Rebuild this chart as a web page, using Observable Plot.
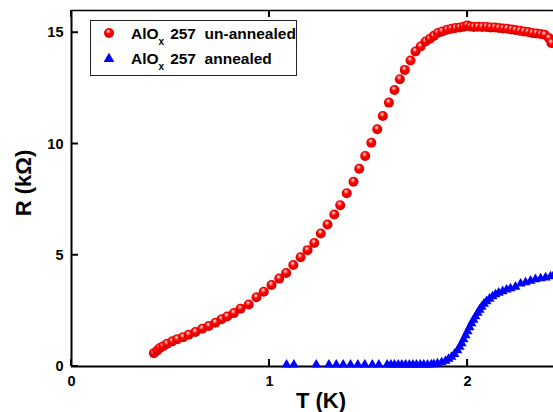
<!DOCTYPE html>
<html><head><meta charset="utf-8">
<script src="https://cdn.jsdelivr.net/npm/d3@7"></script>
<script src="https://cdn.jsdelivr.net/npm/@observablehq/plot@0.6"></script>
<style>body{margin:0;background:#fff}#chart{width:553px;height:412px}</style>
</head><body><div id="chart"></div>
<script>
// Un-annealed sample (red spheres)
const unannealedT = [0.416,0.433,0.446,0.463,0.483,0.509,0.534,0.564,0.592,0.626,0.660,0.693,0.727,0.758,0.786,0.820,0.854,0.895,0.934,0.971,1.010,1.049,1.084,1.120,1.157,1.192,1.226,1.259,1.293,1.327,1.357,1.390,1.424,1.453,1.483,1.514,1.544,1.572,1.603,1.631,1.658,1.683,1.712,1.737,1.763,1.788,1.810,1.830,1.850,1.872,1.897,1.918,1.939,1.961,1.981,1.998,2.015,2.032,2.052,2.074,2.096,2.116,2.138,2.158,2.180,2.200,2.222,2.242,2.264,2.284,2.306,2.327,2.348,2.369,2.389,2.411,2.423];
const unannealedR = [0.60,0.72,0.83,0.91,1.02,1.13,1.23,1.32,1.43,1.55,1.70,1.82,1.97,2.12,2.25,2.40,2.60,2.79,3.11,3.36,3.66,3.95,4.20,4.56,4.91,5.23,5.55,5.98,6.38,6.83,7.25,7.79,8.30,8.89,9.46,10.06,10.66,11.26,11.86,12.43,12.91,13.33,13.75,14.16,14.38,14.61,14.73,14.86,14.99,15.06,15.14,15.18,15.21,15.24,15.27,15.33,15.28,15.26,15.27,15.26,15.26,15.24,15.24,15.21,15.19,15.18,15.15,15.12,15.09,15.06,15.03,14.99,14.97,14.94,14.91,14.76,14.54];
// Annealed sample (blue triangles)
const annealedT = [1.086,1.123,1.236,1.300,1.337,1.372,1.409,1.446,1.481,1.519,1.552,1.594,1.613,1.631,1.650,1.668,1.687,1.706,1.724,1.742,1.761,1.779,1.798,1.817,1.830,1.848,1.869,1.889,1.904,1.919,1.934,1.949,1.960,1.970,1.980,1.990,2.000,2.010,2.020,2.030,2.040,2.051,2.061,2.071,2.083,2.096,2.111,2.126,2.141,2.157,2.177,2.197,2.217,2.242,2.268,2.293,2.318,2.343,2.369,2.394,2.419,2.434];
const annealedR = [0.08,0.08,0.08,0.08,0.08,0.08,0.08,0.08,0.08,0.08,0.08,0.08,0.08,0.08,0.08,0.08,0.08,0.08,0.08,0.08,0.08,0.08,0.08,0.09,0.10,0.14,0.18,0.25,0.34,0.43,0.56,0.72,0.88,1.04,1.22,1.40,1.58,1.76,1.94,2.09,2.25,2.41,2.55,2.68,2.82,2.93,3.04,3.15,3.24,3.31,3.38,3.45,3.51,3.58,3.72,3.78,3.85,3.92,3.96,4.00,4.05,4.08];
const xTicks = [0, 1, 2];
const yTicks = [0, 5, 10, 15];
const legendBase = ["AlO", "AlO"];
const legendSub = ["x", "x"];
const legendRest = ["257\u00a0\u00a0un-annealed", "257\u00a0\u00a0annealed"];
const xLabel = "T (K)";
const yLabel = "R (kΩ)";

const red = unannealedT.map((t, i) => ({T: t, R: unannealedR[i]}));
const blue = annealedT.map((t, i) => ({T: t, R: annealedR[i]}));

const FONT = "'Liberation Sans', Arial, sans-serif";

const defs = () => {
  const d = d3.create("svg:defs");
  const g = d.append("radialGradient").attr("id", "sphere")
    .attr("cx", "0.45").attr("cy", "0.42").attr("r", "0.58")
    .attr("fx", "0.42").attr("fy", "0.3");
  g.append("stop").attr("offset", "0").attr("stop-color", "#ffffff");
  g.append("stop").attr("offset", "0.2").attr("stop-color", "#ff8080");
  g.append("stop").attr("offset", "0.45").attr("stop-color", "#ff0000");
  g.append("stop").attr("offset", "1").attr("stop-color", "#d00000");
  return d.node();
};

const fmt = d3.format("d");

const plot = Plot.plot({
  width: 553, height: 412,
  marginLeft: 71, marginRight: 0, marginTop: 10, marginBottom: 46,
  style: {fontFamily: FONT, fontWeight: "bold", fontSize: "14.5px", color: "#000", background: "#fff"},
  x: {domain: [0, 2.434], ticks: xTicks},
  y: {domain: [0, 16], ticks: yTicks},
  marks: [
    defs,
    Plot.axisX({ticks: xTicks, tickSize: 0, tickPadding: 9, tickFormat: fmt, label: null}),
    Plot.axisY({ticks: yTicks, tickSize: 0, tickPadding: 8, tickFormat: fmt, label: null}),
    Plot.ruleX([0], {strokeWidth: 2}),
    Plot.ruleY([0], {strokeWidth: 2}),
    Plot.ruleY([16], {strokeWidth: 1.5}),
    Plot.dot(blue, {x: "T", y: "R", symbol: "triangle", r: 3.7, fill: "#0000ff"}),
    Plot.dot(red, {x: "T", y: "R", r: 5, fill: "url(#sphere)"})
  ]
});

const svg = d3.select(plot);
const xs = plot.scale("x"), ys = plot.scale("y");
const xr0 = xs.range[0], yb = ys.range[0], yt = ys.range[1];
// inward tick marks, positioned through the plot's own scales
const tg = svg.append("g").attr("stroke", "#000").attr("stroke-width", 2).attr("fill", "none");
xTicks.forEach(v => {
  const px = xs.apply(v);
  tg.append("path").attr("d", `M${px},${yb}V${yb - 7}`);
  tg.append("path").attr("d", `M${px},${yt}V${yt + 7}`);
});
yTicks.forEach(v => {
  const py = ys.apply(v);
  tg.append("path").attr("d", `M${xr0},${py}H${xr0 + 7}`);
});

// axis titles
svg.append("text").attr("x", 321).attr("y", 408).attr("text-anchor", "middle")
  .attr("font-family", FONT).attr("font-weight", "bold").attr("font-size", 22).text(xLabel);
svg.append("text").attr("transform", "translate(31,183) rotate(-90)").attr("text-anchor", "middle")
  .attr("font-family", FONT).attr("font-weight", "bold").attr("font-size", 22).text(yLabel);

// legend
const lg = svg.append("g").attr("font-family", FONT).attr("font-weight", "bold").attr("font-size", 15.5).attr("text-anchor", "start");
lg.append("rect").attr("x", 90.5).attr("y", 20.5).attr("width", 206).attr("height", 55)
  .attr("fill", "#fff").attr("stroke", "#222").attr("stroke-width", 1);
lg.append("circle").attr("cx", 109).attr("cy", 33).attr("r", 5).attr("fill", "url(#sphere)");
lg.append("path").attr("d", d3.symbol(d3.symbolTriangle, 50)()).attr("transform", "translate(109,59)").attr("fill", "#0000ff");
[39, 64].forEach((by, i) => {
  const t = lg.append("text").attr("x", 131).attr("y", by).attr("text-anchor", "start");
  t.append("tspan").text(legendBase[i]);
  t.append("tspan").attr("dy", 6).attr("font-size", 10).text(legendSub[i]);
  t.append("tspan").attr("dy", -6).attr("dx", 6).text(legendRest[i]);
});

document.getElementById("chart").appendChild(plot);
</script>
</body></html>
